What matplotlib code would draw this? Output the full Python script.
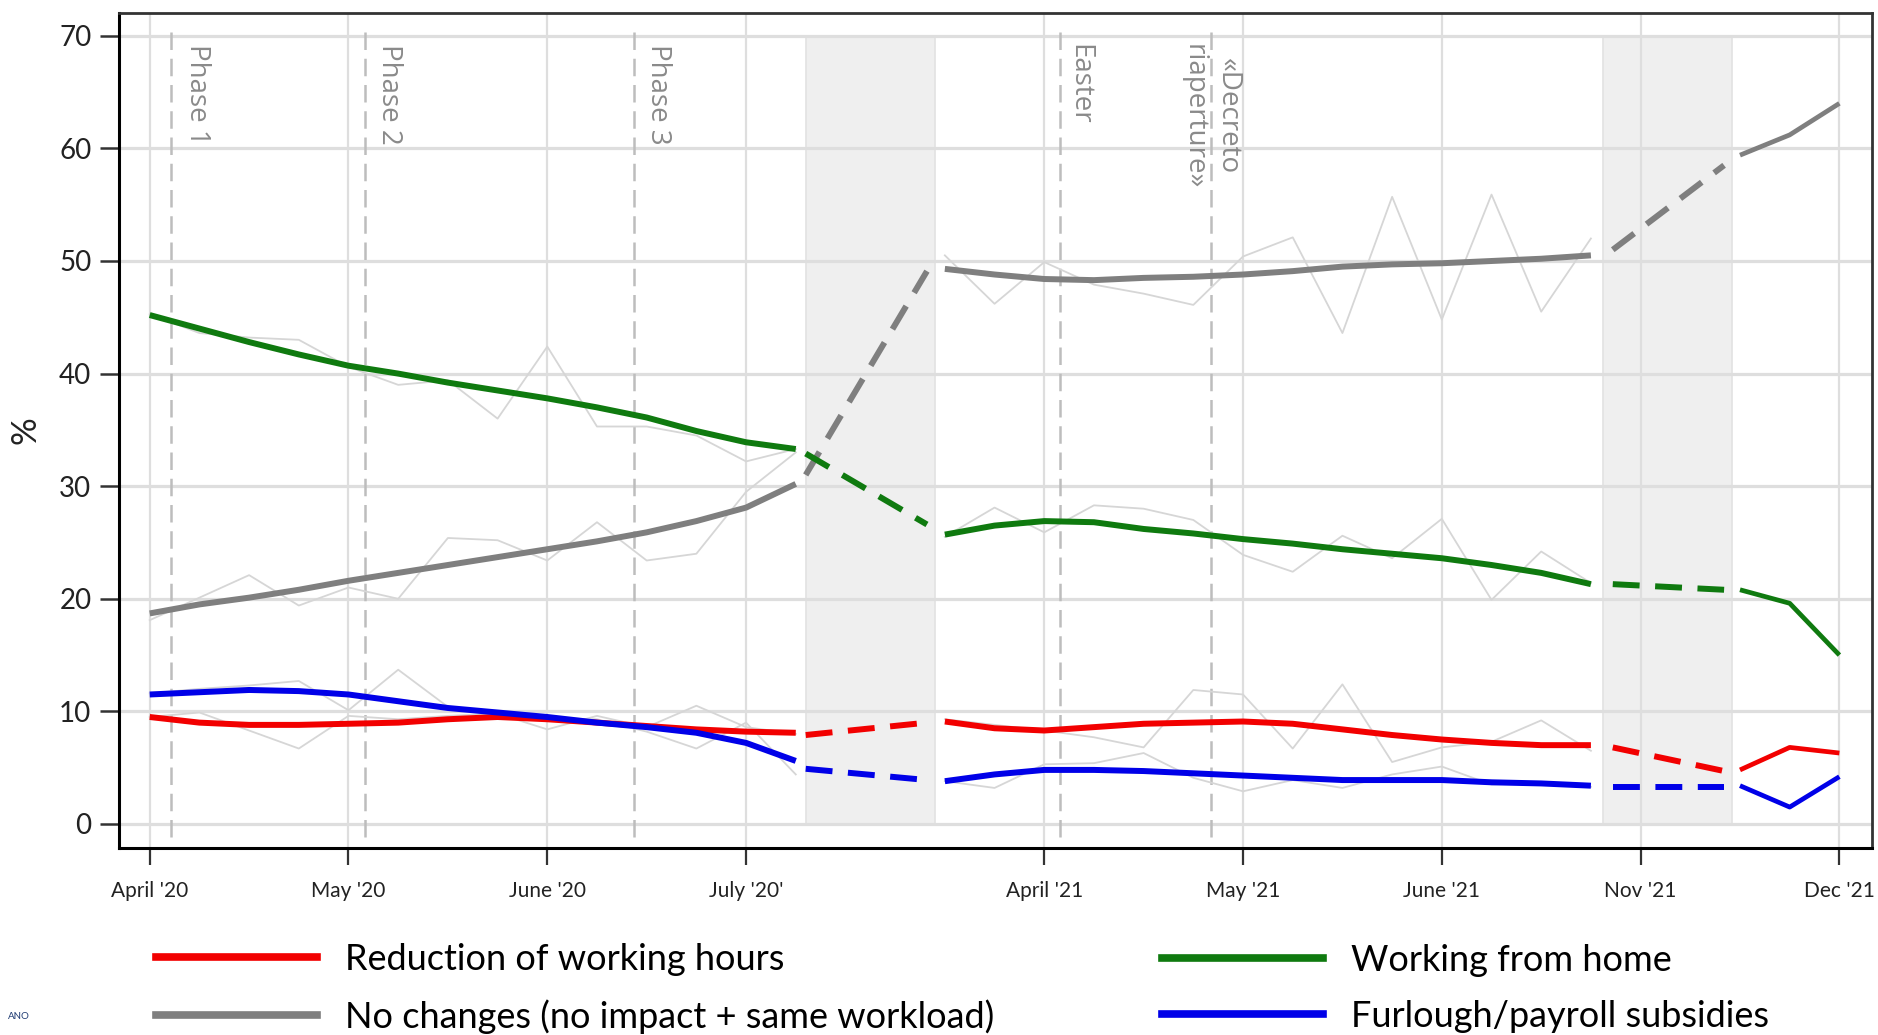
import matplotlib
matplotlib.use('Agg')
import matplotlib.pyplot as plt
from matplotlib.lines import Line2D

# ---------------- data ----------------
tick_pos = [0, 1, 2, 3, 4.5, 5.5, 6.5, 7.5, 8.5]
tick_labels = ["April '20", "May '20", "June '20", "July '20'", "April '21",
               "May '21", "June '21", "Nov '21", "Dec '21"]

weeks_p1 = [0.0, 0.25, 0.5, 0.75, 1.0, 1.25, 1.5, 1.75, 2.0, 2.25, 2.5, 2.75, 3.0, 3.25]
weeks_p2 = [4.0, 4.25, 4.5, 4.75, 5.0, 5.25, 5.5, 5.75, 6.0, 6.25, 6.5, 6.75, 7.0, 7.25]
weeks_p3 = [8.0, 8.25, 8.5]
gap1_x = [3.30, 3.91]
gap2_x = [7.36, 7.92]

# smoothed series
red_p1 = [9.5, 9.0, 8.8, 8.8, 8.9, 9.0, 9.3, 9.5, 9.3, 9.0, 8.7, 8.4, 8.2, 8.1]
red_p2 = [9.1, 8.5, 8.3, 8.6, 8.9, 9.0, 9.1, 8.9, 8.4, 7.9, 7.5, 7.2, 7.0, 7.0]
red_p3 = [4.8, 6.8, 6.3]
red_gap1 = [7.9, 9.0]
red_gap2 = [6.8, 4.7]

gray_p1 = [18.7, 19.5, 20.1, 20.8, 21.6, 22.3, 23.0, 23.7, 24.4, 25.1, 25.9, 26.9, 28.1, 30.2]
gray_p2 = [49.3, 48.8, 48.4, 48.3, 48.5, 48.6, 48.8, 49.1, 49.5, 49.7, 49.8, 50.0, 50.2, 50.5]
gray_p3 = [59.4, 61.2, 64.0]
gray_gap1 = [31.0, 49.1]
gray_gap2 = [51.0, 58.5]

green_p1 = [45.2, 44.0, 42.8, 41.7, 40.7, 40.0, 39.2, 38.5, 37.8, 37.0, 36.1, 34.9, 33.9, 33.3]
green_p2 = [25.7, 26.5, 26.9, 26.8, 26.2, 25.8, 25.3, 24.9, 24.4, 24.0, 23.6, 23.0, 22.3, 21.3]
green_p3 = [20.8, 19.6, 15.0]
green_gap1 = [32.9, 26.6]
green_gap2 = [21.3, 20.8]

blue_p1 = [11.5, 11.7, 11.9, 11.8, 11.5, 10.9, 10.3, 9.9, 9.5, 9.0, 8.6, 8.1, 7.2, 5.6]
blue_p2 = [3.8, 4.4, 4.8, 4.8, 4.7, 4.5, 4.3, 4.1, 3.9, 3.9, 3.9, 3.7, 3.6, 3.4]
blue_p3 = [3.4, 1.5, 4.2]
blue_gap1 = [4.9, 3.9]
blue_gap2 = [3.3, 3.3]

# raw weekly observations (thin light lines)
red_raw_p1 = [9.5, 9.9, 8.3, 6.7, 9.6, 9.3, 9.6, 9.8, 8.4, 9.6, 8.6, 10.5, 8.6, 8.0]
red_raw_p2 = [9.3, 8.8, 8.3, 7.7, 6.8, 11.9, 11.5, 6.7, 12.4, 5.5, 6.8, 7.3, 9.2, 6.5]
gray_raw_p1 = [18.1, 20.1, 22.1, 19.4, 21.0, 20.0, 25.4, 25.2, 23.4, 26.8, 23.4, 24.0, 29.5, 33.0]
gray_raw_p2 = [50.5, 46.2, 49.9, 47.9, 47.1, 46.1, 50.4, 52.1, 43.6, 55.7, 44.8, 55.9, 45.5, 52.0]
green_raw_p1 = [45.3, 43.6, 43.2, 43.0, 40.6, 39.0, 39.4, 36.0, 42.4, 35.3, 35.3, 34.5, 32.2, 33.3]
green_raw_p2 = [25.5, 28.1, 25.9, 28.3, 28.0, 27.0, 23.9, 22.4, 25.6, 23.6, 27.1, 19.9, 24.2, 21.4]
blue_raw_p1 = [11.6, 12.0, 12.3, 12.7, 10.1, 13.7, 10.4, 10.0, 9.4, 9.3, 8.2, 6.7, 9.0, 4.4]
blue_raw_p2 = [3.8, 3.2, 5.3, 5.4, 6.3, 4.1, 2.9, 3.9, 3.2, 4.4, 5.1, 3.5, 3.7, 3.3]

bands = [(3.30, 3.95), (7.31, 7.96)]
event_x = [0.107, 1.083, 2.436, 4.579, 5.339]
event_labels = ["Phase 1", "Phase 2", "Phase 3", "Easter", "«Decreto\nriaperture»"]

legend_labels = ["Reduction of working hours", "No changes (no impact + same workload)",
                 "Working from home", "Furlough/payroll subsidies"]

# ---------------- styling ----------------
FONT = ['Lato', 'DejaVu Sans']
plt.rcParams['font.family'] = FONT

c_red = '#f20000'
c_gray = '#7f7f7f'
c_green = '#0f7a0f'
c_blue = '#0000e8'
c_raw = '#d6d6d6'

fig = plt.figure(figsize=(18.78, 10.35), dpi=100)
ax = fig.add_axes([0.0631, 0.1804, 0.9337, 0.8073])
ax.set_xlim(-0.157, 8.664)
ax.set_ylim(-2.16, 72.05)

# grid
ax.set_axisbelow(True)
ax.set_yticks([0, 10, 20, 30, 40, 50, 60, 70])
ax.set_xticks(tick_pos)
ax.set_xticklabels(tick_labels)
ax.yaxis.grid(True, color='#dedede', lw=2.3)
ax.xaxis.grid(True, color='#dedede', lw=1.6)

# shaded bands
for b0, b1 in bands:
    ax.fill_between([b0, b1], 0, 70, color='#efefef', ec='#e2e2e2', lw=1.2, zorder=0.3)

# event dashed lines and labels
label_offsets = [8.5, 7, 7, 3.5, 0]
for ex, lab, off in zip(event_x, event_labels, label_offsets):
    ax.plot([ex, ex], [-1.2, 70.5], color='#bdbdbd', lw=1.8, dashes=(7, 3.5), zorder=1)
    if '\n' in lab:
        ax.annotate(lab, xy=(ex, 69.3), xytext=(off, 0), textcoords='offset points',
                    rotation=-90, ha='center', va='top', fontsize=20, color='#8a8a8a',
                    family=['Open Sans', 'DejaVu Sans'], linespacing=1.3)
    else:
        ax.annotate(lab, xy=(ex, 69.3), xytext=(off, 0), textcoords='offset points',
                    rotation=-90, ha='left', va='top', fontsize=20, color='#8a8a8a',
                    family=['Open Sans', 'DejaVu Sans'])

# raw lines
for rp1, rp2 in [(gray_raw_p1, gray_raw_p2), (red_raw_p1, red_raw_p2),
                 (blue_raw_p1, blue_raw_p2), (green_raw_p1, green_raw_p2)]:
    ax.plot(weeks_p1, rp1, color=c_raw, lw=1.3, zorder=1.5)
    ax.plot(weeks_p2, rp2, color=c_raw, lw=1.3, zorder=1.5)

# smoothed lines
series = [
    (c_gray, gray_p1, gray_p2, gray_p3, gray_gap1, gray_gap2),
    (c_red, red_p1, red_p2, red_p3, red_gap1, red_gap2),
    (c_blue, blue_p1, blue_p2, blue_p3, blue_gap1, blue_gap2),
    (c_green, green_p1, green_p2, green_p3, green_gap1, green_gap2),
]
LW = 4.3
for col, p1, p2, p3, g1, g2 in series:
    ax.plot(weeks_p1, p1, color=col, lw=LW, solid_capstyle='butt', zorder=3)
    ax.plot(weeks_p2, p2, color=col, lw=LW, solid_capstyle='butt', zorder=3)
    ax.plot(weeks_p3, p3, color=col, lw=3.4, solid_capstyle='butt', zorder=3)
    ax.plot(gap1_x, g1, color=col, lw=LW, dashes=(4.5, 2.6), dash_capstyle='butt', zorder=3)
    ax.plot(gap2_x, g2, color=col, lw=LW, dashes=(4.5, 2.6), dash_capstyle='butt', zorder=3)

# spines & ticks
for s in ['left', 'bottom']:
    ax.spines[s].set_color('black')
    ax.spines[s].set_linewidth(2.2)
for s in ['top', 'right']:
    ax.spines[s].set_color('#333333')
    ax.spines[s].set_linewidth(2.0)

ax.tick_params(axis='y', length=13.5, width=1.8, color='#333333', pad=6,
               labelsize=20, labelcolor='#222222')
ax.tick_params(axis='x', length=12.5, width=1.6, color='#333333', pad=11,
               labelsize=15, labelcolor='#222222')

ax.set_ylabel('%', fontsize=25, color='#222222')
ax.yaxis.set_label_coords(-0.044, 0.5)

# legend (two columns as two legends)
h_red = Line2D([], [], color=c_red, lw=5.5)
h_gray = Line2D([], [], color=c_gray, lw=5.5)
h_green = Line2D([], [], color=c_green, lw=5.5)
h_blue = Line2D([], [], color=c_blue, lw=5.5)
common = dict(frameon=False, fontsize=26, handlelength=4.46, handletextpad=0.78,
              labelspacing=0.64, borderpad=0, borderaxespad=0, loc='center left')
fig.legend([h_red, h_gray], legend_labels[:2], bbox_to_anchor=(156 / 1878, 0.0452), **common)
fig.legend([h_green, h_blue], legend_labels[2:], bbox_to_anchor=(1162 / 1878, 0.0452), **common)

fig.text(0.004, 0.018, 'ANO', fontsize=7, color='#1f3b73', va='center')

fig.savefig('out.png', dpi=100)
